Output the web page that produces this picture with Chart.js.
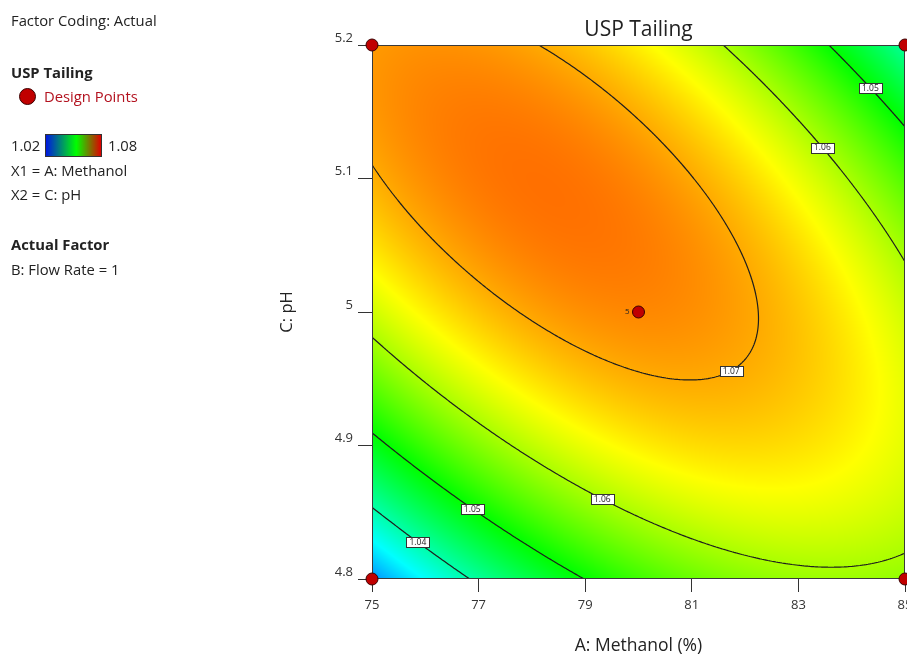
<!DOCTYPE html>
<html>
<head>
<meta charset="utf-8">
<title>USP Tailing</title>
<script src="https://cdn.jsdelivr.net/npm/chart.js@4.4.1/dist/chart.umd.min.js"></script>
<style>
  html, body { margin: 0; padding: 0; background: #fff; overflow: hidden; }
  #wrap { position: relative; width: 907px; height: 655px; overflow: hidden; }
  #chart { position: absolute; left: 0; top: 0; }
  .side { position: absolute; left: 11px; font-family: "Segoe UI", "Open Sans", sans-serif;
          font-size: 14.8px; line-height: 20px; color: #222; white-space: nowrap; }
  .side b { font-weight: 700; }
  #dp-dot { position: absolute; left: 19px; top: 88px; width: 15px; height: 15px; border-radius: 50%;
            background: #c00000; border: 1px solid #3a0000; }
  #scale-bar { position: absolute; left: 45px; top: 134px; width: 55px; height: 21px;
               border: 1px solid #333; background: linear-gradient(to right, #0018e0, #00ff00 55%, #e00000); }
</style>
</head>
<body>
<div id="wrap">
  <canvas id="chart" width="912" height="655"></canvas>
  <div class="side" style="top:10px">Factor Coding: Actual</div>
  <div class="side" style="top:62px"><b>USP Tailing</b></div>
  <div id="dp-dot"></div>
  <div class="side" style="top:86px; left:44px; color:#b3121f">Design Points</div>
  <div class="side" style="top:135px">1.02</div>
  <div id="scale-bar"></div>
  <div class="side" style="top:135px; left:108px">1.08</div>
  <div class="side" style="top:160px">X1 = A: Methanol</div>
  <div class="side" style="top:184px">X2 = C: pH</div>
  <div class="side" style="top:234px"><b>Actual Factor</b></div>
  <div class="side" style="top:259px">B: Flow Rate = 1</div>
</div>
<script>
// Axis ticks
const xTicks = [75, 77, 79, 81, 83, 85];
const yTicks = [4.8, 4.9, 5.0, 5.1, 5.2];
const yTickLabels = ['4.8', '4.9', '5', '5.1', '5.2'];

// Design points (methanol %, pH) and number of runs at each
const designX = [75, 75, 85, 85, 80];
const designY = [4.8, 5.2, 4.8, 5.2, 5.0];
const designRuns = [1, 1, 1, 1, 5];

// Quadratic model in coded units: b0, A, C, AC, A^2, C^2
const coef = [1.0720, 0.0, 0.00615, -0.0150, -0.0099, -0.01238];
const centerA = 80, halfA = 5;
const centerC = 5.0, halfC = 0.2;

// Contour levels and where their labels sit (methanol %, approx pH)
const contourLevels = [1.04, 1.05, 1.06, 1.07];
const labelLevel = [1.05, 1.06, 1.07, 1.06, 1.05, 1.04];
const labelX = [84.35, 83.45, 81.74, 79.32, 76.88, 75.86];
const labelPH = [5.17, 5.13, 4.96, 4.86, 4.86, 4.83];

// Colour map
const colorLevels = [1.02, 1.035, 1.05, 1.065, 1.08];
const colorStops = [[0, 0, 255], [0, 255, 255], [0, 255, 0], [255, 255, 0], [255, 0, 0]];

const FONT = '"Segoe UI", "Open Sans", sans-serif';

function tailing(m, pH) {
    const a = (m - centerA) / halfA;
    const c = (pH - centerC) / halfC;
    return coef[0] + coef[1] * a + coef[2] * c + coef[3] * a * c + coef[4] * a * a + coef[5] * c * c;
}

function colorAt(v) {
    const n = colorLevels.length;
    if (v <= colorLevels[0]) return colorStops[0];
    if (v >= colorLevels[n - 1]) return colorStops[n - 1];
    for (let i = 0; i < n - 1; i++) {
        if (v <= colorLevels[i + 1]) {
            const t = (v - colorLevels[i]) / (colorLevels[i + 1] - colorLevels[i]);
            const c0 = colorStops[i], c1 = colorStops[i + 1];
            return [0, 1, 2].map(k => c0[k] + (c1[k] - c0[k]) * t);
        }
    }
    return colorStops[n - 1];
}

// pH on a contour at a given methanol level, nearest to the hint
function contourPH(level, m, hint) {
    const a = (m - centerA) / halfA;
    const A = coef[5];
    const B = coef[2] + coef[3] * a;
    const C = coef[0] + coef[1] * a + coef[4] * a * a - level;
    const d = Math.sqrt(Math.max(0, B * B - 4 * A * C));
    const roots = [(-B + d) / (2 * A), (-B - d) / (2 * A)].map(c => centerC + c * halfC);
    return Math.abs(roots[0] - hint) < Math.abs(roots[1] - hint) ? roots[0] : roots[1];
}

const surfacePlugin = {
    id: 'surface',
    beforeDatasetsDraw(chart) {
        const {ctx, chartArea: area, scales: {x, y}} = chart;
        const w = Math.round(area.right - area.left);
        const h = Math.round(area.bottom - area.top);

        // filled colour surface
        const off = document.createElement('canvas');
        off.width = w; off.height = h;
        const octx = off.getContext('2d');
        const img = octx.createImageData(w, h);
        for (let j = 0; j < h; j++) {
            const pH = y.getValueForPixel(area.top + j + 0.5);
            for (let i = 0; i < w; i++) {
                const m = x.getValueForPixel(area.left + i + 0.5);
                const col = colorAt(tailing(m, pH));
                const k = (j * w + i) * 4;
                img.data[k] = col[0]; img.data[k + 1] = col[1]; img.data[k + 2] = col[2]; img.data[k + 3] = 255;
            }
        }
        octx.putImageData(img, 0, 0);
        ctx.save();
        ctx.drawImage(off, area.left, area.top);

        // contour lines by marching squares
        const step = 2;
        const nx = Math.ceil(w / step) + 1, ny = Math.ceil(h / step) + 1;
        const px = i => Math.min(area.left + i * step, area.right);
        const py = j => Math.min(area.top + j * step, area.bottom);
        const grid = [];
        for (let j = 0; j < ny; j++) {
            const row = [];
            const pH = y.getValueForPixel(py(j));
            for (let i = 0; i < nx; i++) row.push(tailing(x.getValueForPixel(px(i)), pH));
            grid.push(row);
        }
        ctx.beginPath();
        ctx.rect(area.left, area.top, area.right - area.left, area.bottom - area.top);
        ctx.clip();
        ctx.strokeStyle = '#1e1e1e';
        ctx.lineWidth = 1.2;
        contourLevels.forEach(level => {
            ctx.beginPath();
            for (let j = 0; j < ny - 1; j++) {
                for (let i = 0; i < nx - 1; i++) {
                    const v = [grid[j][i], grid[j][i + 1], grid[j + 1][i + 1], grid[j + 1][i]];
                    const X = [px(i), px(i + 1), px(i + 1), px(i)];
                    const Y = [py(j), py(j), py(j + 1), py(j + 1)];
                    const pts = [];
                    for (let e = 0; e < 4; e++) {
                        const a = e, b = (e + 1) % 4;
                        if ((v[a] - level) * (v[b] - level) < 0) {
                            const t = (level - v[a]) / (v[b] - v[a]);
                            pts.push([X[a] + (X[b] - X[a]) * t, Y[a] + (Y[b] - Y[a]) * t]);
                        }
                    }
                    for (let p = 0; p + 1 < pts.length; p += 2) {
                        ctx.moveTo(pts[p][0], pts[p][1]);
                        ctx.lineTo(pts[p + 1][0], pts[p + 1][1]);
                    }
                }
            }
            ctx.stroke();
        });

        // contour labels
        ctx.font = '8.5px ' + FONT;
        ctx.textAlign = 'center';
        ctx.textBaseline = 'middle';
        ctx.lineWidth = 1;
        labelLevel.forEach((level, k) => {
            const cx = x.getPixelForValue(labelX[k]);
            const cy = y.getPixelForValue(contourPH(level, labelX[k], labelPH[k]));
            const text = level.toFixed(2);
            const bw = Math.ceil(ctx.measureText(text).width) + 6, bh = 10;
            const bx = Math.round(cx - bw / 2) + 0.5, by = Math.round(cy - bh / 2) + 0.5;
            ctx.fillStyle = '#ffffff';
            ctx.fillRect(bx, by, bw, bh);
            ctx.strokeStyle = '#333';
            ctx.strokeRect(bx, by, bw, bh);
            ctx.fillStyle = '#222';
            ctx.fillText(text, cx, cy + 0.5);
        });
        ctx.restore();

        // plot frame
        ctx.save();
        ctx.strokeStyle = '#3a3a3a';
        ctx.lineWidth = 1;
        ctx.strokeRect(Math.round(area.left) + 0.5, Math.round(area.top) + 0.5,
                       Math.round(area.right - area.left) - 1, Math.round(area.bottom - area.top) - 1);
        ctx.restore();
    },
    afterDatasetsDraw(chart) {
        // replicate count next to a design point
        const {ctx, scales: {x, y}} = chart;
        ctx.save();
        ctx.font = '8px ' + FONT;
        ctx.fillStyle = '#222';
        ctx.textAlign = 'right';
        ctx.textBaseline = 'middle';
        designRuns.forEach((n, i) => {
            if (n > 1) ctx.fillText(String(n), x.getPixelForValue(designX[i]) - 9, y.getPixelForValue(designY[i]));
        });
        ctx.restore();
    }
};

const canvas = document.getElementById('chart');
new Chart(canvas.getContext('2d'), {
    type: 'scatter',
    data: {
        datasets: [{
            label: 'Design Points',
            data: designX.map((m, i) => ({x: m, y: designY[i]})),
            pointRadius: 6,
            pointHoverRadius: 6,
            backgroundColor: '#c00000',
            borderColor: '#3a0000',
            borderWidth: 1,
            clip: false
        }]
    },
    options: {
        responsive: false,
        animation: false,
        events: [],
        layout: { padding: { left: 277, right: 0, top: 0, bottom: 0 } },
        plugins: {
            legend: { display: false },
            tooltip: { enabled: false },
            title: {
                display: true,
                text: 'USP Tailing',
                fullSize: false,
                color: '#222',
                font: { family: FONT, size: 21, weight: 'normal' },
                padding: { top: 17, bottom: 2.8 }
            }
        },
        scales: {
            x: {
                type: 'linear',
                min: 75,
                max: 85,
                afterBuildTicks: s => { s.ticks = xTicks.map(v => ({value: v})); },
                afterFit: s => { s.height = 76; s.paddingLeft = 0; s.paddingRight = 0; },
                ticks: { color: '#333', font: { family: FONT, size: 13 }, padding: 5, maxRotation: 0, autoSkip: false },
                grid: { drawOnChartArea: false, drawTicks: true, tickLength: 13, color: '#333' },
                border: { display: false },
                title: { display: true, text: 'A: Methanol (%)', color: '#222',
                         font: { family: FONT, size: 17.5, lineHeight: 1.0 }, padding: { top: 0, bottom: 0 } }
            },
            y: {
                type: 'linear',
                min: 4.8,
                max: 5.2,
                afterBuildTicks: s => { s.ticks = yTicks.map(v => ({value: v})); },
                afterFit: s => { s.width = 95; s.paddingTop = 0; s.paddingBottom = 0; },
                ticks: {
                    color: '#333', font: { family: FONT, size: 13 }, padding: 5, labelOffset: -7, autoSkip: false,
                    callback: (v, i) => yTickLabels[i]
                },
                grid: { drawOnChartArea: false, drawTicks: true, tickLength: 14, color: '#333' },
                border: { display: false },
                title: { display: true, text: 'C: pH', color: '#222',
                         font: { family: FONT, size: 16.5 }, padding: { top: 0, bottom: 0 } }
            }
        }
    },
    plugins: [surfacePlugin]
});
</script>
</body>
</html>
